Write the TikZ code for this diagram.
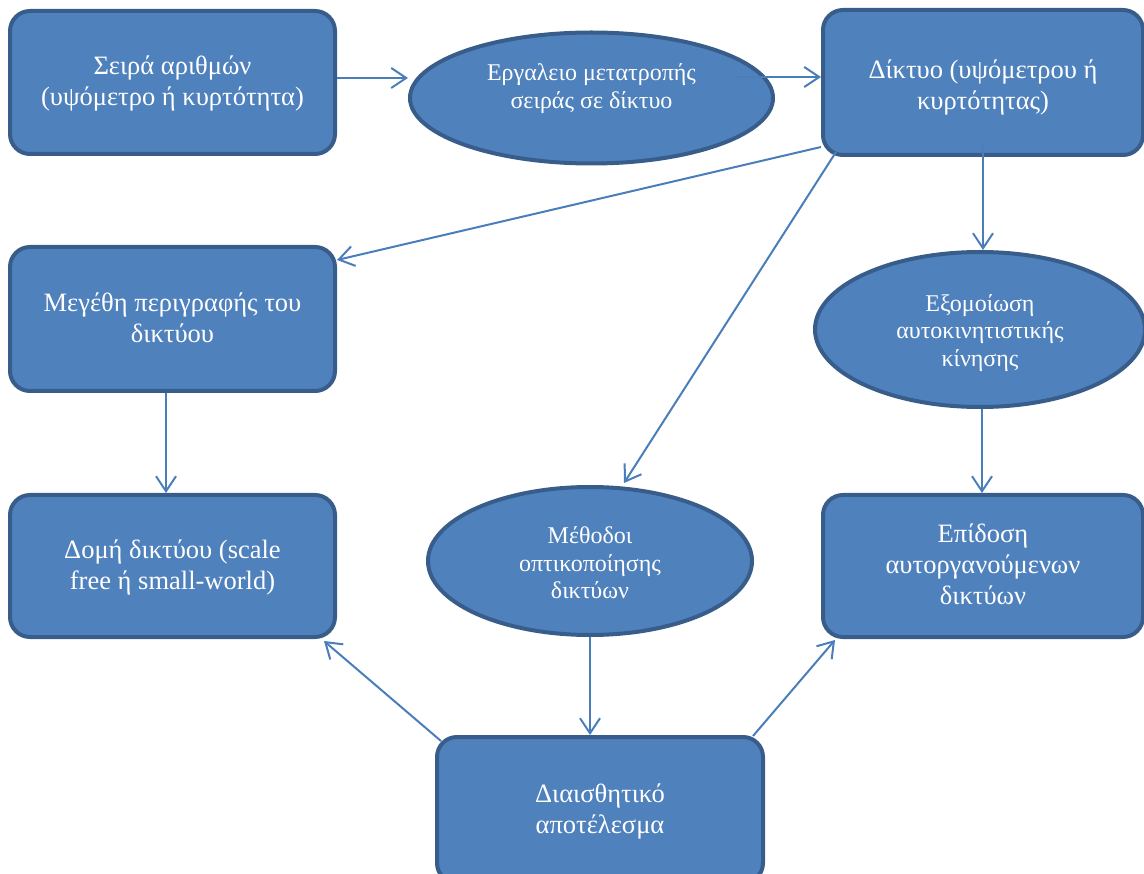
\documentclass[tikz,border=0pt]{standalone}
\usepackage{fontspec}
\setmainfont{Liberation Serif}
\usetikzlibrary{shapes.geometric,arrows.meta}
\definecolor{boxfill}{HTML}{4F81BD}
\definecolor{boxline}{HTML}{385D8A}
\definecolor{arrowline}{HTML}{4A7EBB}
% centred block of lines; optional argument moves it up (positive) or down (negative)
\newcommand\textblock[2][0pt]{\vbox to 0pt{\vss
  \hbox{\begin{tabular}{@{}c@{}}#2\end{tabular}}\kern#1\relax\kern#1\relax\vss}}
\begin{document}
\begin{tikzpicture}[x=1pt,y=-1pt,
  shapebase/.style={draw=boxline, fill=boxfill, line width=4pt, text=white,
    inner sep=0pt},
  roundbox/.style={shapebase, rectangle, rounded corners=20pt,
    font=\fontsize{26.5}{31}\selectfont},
  oval/.style={shapebase, ellipse, font=\fontsize{24}{27.5}\selectfont},
  arr/.style={draw=arrowline, line width=2pt,
    -{Straight Barb[length=15pt,width=20pt,line width=2pt]}}]
\useasboundingbox (0,0) rectangle (1144,874);

% nodes
\node[roundbox, minimum width=325pt, minimum height=143pt] (b1) at (172.5,82.5)
  {\textblock[-1.5pt]{Σειρά αριθμών\\(υψόμετρο ή κυρτότητα)}};
\node[oval, minimum width=363pt, minimum height=131pt] (e1) at (591.5,98)
  {\textblock[9pt]{Εργαλειο μετατροπής\\σειράς σε δίκτυο}};
\node[roundbox, minimum width=320pt, minimum height=145pt] (d) at (983,82.5)
  {\textblock[-5pt]{Δίκτυο (υψόμετρου ή\\κυρτότητας)}};
\node[roundbox, minimum width=325pt, minimum height=144pt] (m) at (172.5,319)
  {\textblock[-2pt]{Μεγέθη περιγραφής του\\δικτύου}};
\node[oval, minimum width=330pt, minimum height=155pt] (ex) at (980,329.5)
  {\textblock[-4pt]{Εξομοίωση\\αυτοκινητιστικής\\κίνησης}};
\node[roundbox, minimum width=325pt, minimum height=142pt] (s) at (172.5,566)
  {\textblock[-1.5pt]{Δομή δικτύου (scale\\free ή small-world)}};
\node[oval, minimum width=324pt, minimum height=148pt] (v) at (590,561)
  {\textblock[-4.5pt]{Μέθοδοι\\οπτικοποίησης\\δικτύων}};
\node[roundbox, minimum width=320pt, minimum height=142pt] (p) at (983,566)
  {\textblock[-1.5pt]{Επίδοση\\αυτοργανούμενων\\δικτύων}};
\node[roundbox, minimum width=326pt, minimum height=146pt] (r) at (600,810)
  {\textblock[-2pt]{Διαισθητικό\\αποτέλεσμα}};

% connectors
\draw[arr] ([yshift=4.5pt]b1.east) -- ([yshift=20pt]e1.west);
\draw[arr] ([xshift=-40pt,yshift=21pt]e1.east) -- ([yshift=5.5pt]d.west);
\draw[arr] ([yshift=10pt]d.south west) -- ([yshift=-15pt]m.north east);
\draw[arr] ([xshift=15pt,yshift=5pt]d.south west) -- ([xshift=34pt,yshift=2pt]v.north);
\draw[arr] ([yshift=12pt]d.south) -- (d.south |- ex.north);
\draw[arr] ([xshift=-6.5pt]m.south) -- ([xshift=-6.5pt]s.north);
\draw[arr] ([xshift=2pt]ex.south) -- ([xshift=-1pt]p.north);
\draw[arr] (v.south) -- (v.south |- r.north);
\draw[arr] ([xshift=6pt,yshift=-6pt]r.north west) -- ([xshift=-13pt,yshift=-2pt]s.south east);
\draw[arr] ([xshift=-12pt,yshift=-1pt]r.north east) -- ([xshift=14pt,yshift=-1pt]p.south west);
\end{tikzpicture}
\end{document}
